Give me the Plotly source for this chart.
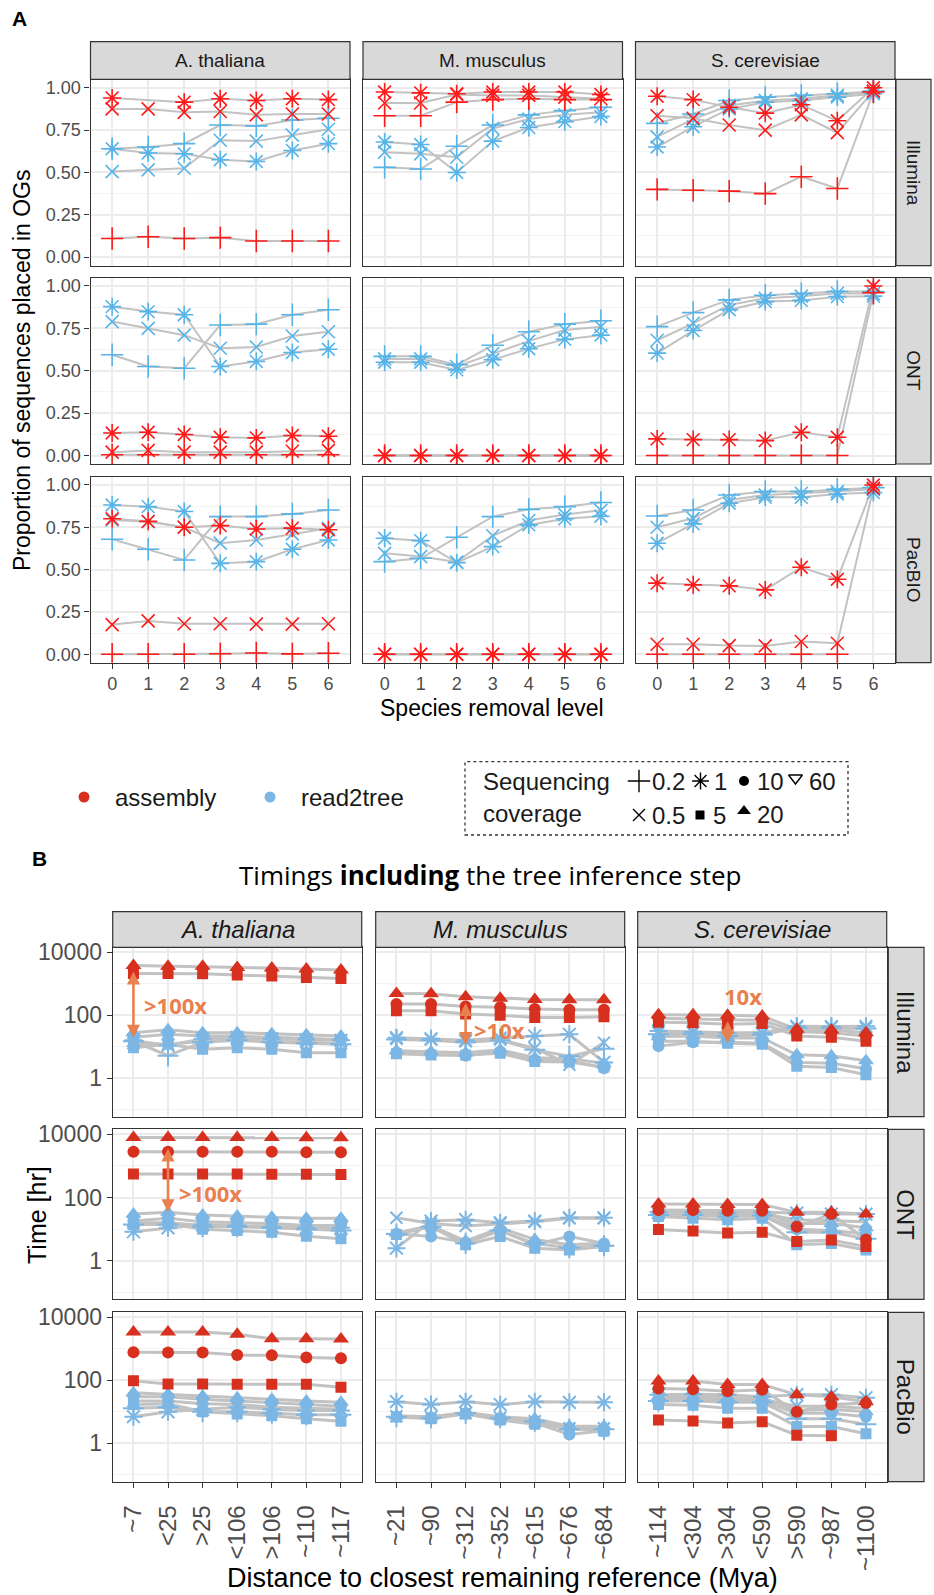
import numpy as np
import plotly.graph_objects as go

W, H = 934, 1595
FONT = "Liberation Sans, Arial, Helvetica, sans-serif"

SPECIES = ["A. thaliana", "M. musculus", "S. cerevisiae"]
PLATFORMS_A = ["Illumina", "ONT", "PacBIO"]
PLATFORMS_B = ["Illumina", "ONT", "PacBio"]
REMOVAL_LEVELS = [0, 1, 2, 3, 4, 5, 6]
DIST_ATH = ["~7", "<25", ">25", "<106", ">106", "~110", "~117"]
DIST_MMU = ["~21", "~90", "~312", "~352", "~615", "~676", "~684"]
DIST_SCE = ["~114", "<304", ">304", "<590", ">590", "~987", "~1100"]

# ---------------- A: proportion of sequences placed in OGs ----------------
# keys are sequencing coverages
prop_ill_ath_asm = {"0.2": [0.11, 0.12, 0.11, 0.115, 0.095, 0.095, 0.095],
                    "0.5": [0.875, 0.875, 0.855, 0.86, 0.84, 0.845, 0.845],
                    "1": [0.94, None, 0.915, 0.935, 0.925, 0.935, 0.93]}
prop_ill_ath_r2t = {"0.2": [0.64, 0.65, 0.67, 0.78, 0.775, 0.81, 0.82],
                    "0.5": [0.505, 0.515, 0.525, 0.69, 0.685, 0.72, 0.755],
                    "1": [0.64, 0.615, 0.61, 0.575, 0.565, 0.63, 0.67]}
prop_ill_mmu_asm = {"0.2": [0.835, 0.835, 0.915, 0.93, 0.935, 0.93, 0.93],
                    "0.5": [0.91, 0.91, 0.96, 0.955, 0.955, 0.945, 0.935],
                    "1": [0.975, 0.97, 0.965, 0.975, 0.975, 0.975, 0.96]}
prop_ill_mmu_r2t = {"0.2": [0.53, 0.52, 0.655, 0.78, 0.84, 0.865, 0.885],
                    "0.5": [0.62, 0.61, 0.59, 0.76, 0.815, 0.84, 0.855],
                    "1": [0.68, 0.665, 0.50, 0.685, 0.765, 0.80, 0.83]}
prop_ill_sce_asm = {"0.2": [0.40, 0.395, 0.39, 0.375, 0.475, 0.405, 0.975],
                    "0.5": [0.835, 0.82, 0.78, 0.75, 0.84, 0.735, 0.98],
                    "1": [0.95, 0.93, 0.885, 0.85, 0.90, 0.805, 1.0]}
prop_ill_sce_r2t = {"0.2": [0.79, 0.845, 0.925, 0.945, 0.955, 0.965, 0.98],
                    "0.5": [0.71, 0.815, 0.895, 0.925, 0.935, 0.955, 0.975],
                    "1": [0.65, 0.77, 0.875, 0.915, 0.925, 0.945, 0.965]}

prop_ont_ath_asm = {"0.2": [0.005, 0.005, 0.005, 0.005, 0.005, 0.005, 0.005],
                    "0.5": [0.02, 0.03, 0.02, 0.02, 0.02, 0.025, 0.03],
                    "1": [0.133, 0.137, 0.124, 0.108, 0.104, 0.118, 0.114]}
prop_ont_ath_r2t = {"0.2": [0.594, 0.525, 0.515, 0.77, 0.775, 0.83, 0.86],
                    "0.5": [0.79, 0.75, 0.71, 0.633, 0.64, 0.705, 0.73],
                    "1": [0.878, 0.849, 0.83, 0.525, 0.555, 0.608, 0.627]}
prop_ont_mmu_asm = {"0.2": [0.0, 0.0, 0.0, 0.0, 0.0, 0.0, 0.0],
                    "0.5": [0.0, 0.0, 0.0, 0.0, 0.0, 0.0, 0.0],
                    "1": [0.0, 0.0, 0.0, 0.0, 0.0, 0.0, 0.0]}
prop_ont_mmu_r2t = {"0.2": [0.585, 0.585, 0.535, 0.65, 0.73, 0.775, 0.795],
                    "0.5": [0.57, 0.57, 0.525, 0.60, 0.675, 0.74, 0.76],
                    "1": [0.55, 0.55, 0.505, 0.565, 0.63, 0.685, 0.71]}
prop_ont_sce_asm = {"0.2": [0.0, 0.0, 0.0, 0.0, 0.0, 0.0, 0.96],
                    "1": [0.098, 0.094, 0.094, 0.088, 0.137, 0.108, 1.0]}
prop_ont_sce_r2t = {"0.2": [0.76, 0.843, 0.918, 0.945, 0.955, 0.967, 0.967],
                    "0.5": [0.68, 0.78, 0.888, 0.927, 0.94, 0.957, 0.955],
                    "1": [0.604, 0.737, 0.86, 0.908, 0.915, 0.937, 0.94]}

prop_pac_ath_asm = {"0.2": [0.0, 0.0, 0.0, 0.003, 0.007, 0.002, 0.006],
                    "0.5": [0.175, 0.197, 0.18, 0.18, 0.178, 0.178, 0.18],
                    "1": [0.80, 0.785, 0.75, 0.76, 0.74, 0.745, 0.735]}
prop_pac_ath_r2t = {"0.2": [0.679, 0.62, 0.557, 0.813, 0.813, 0.829, 0.852],
                    "0.5": [0.793, 0.783, 0.75, 0.656, 0.675, 0.711, 0.744],
                    "1": [0.882, 0.872, 0.843, 0.537, 0.547, 0.62, 0.675]}
prop_pac_mmu_asm = {"0.2": [0.0, 0.0, 0.0, 0.0, 0.0, 0.0, 0.0],
                    "0.5": [0.0, 0.0, 0.0, 0.0, 0.0, 0.0, 0.0],
                    "1": [0.0, 0.0, 0.0, 0.0, 0.0, 0.0, 0.0]}
prop_pac_mmu_r2t = {"0.2": [0.547, 0.567, 0.691, 0.813, 0.856, 0.872, 0.896],
                    "0.5": [0.596, 0.577, 0.545, 0.70, 0.79, 0.825, 0.85],
                    "1": [0.685, 0.671, 0.541, 0.636, 0.764, 0.80, 0.815]}
prop_pac_sce_asm = {"0.2": [0.0, 0.0, 0.0, 0.0, 0.0, 0.0, None],
                    "0.5": [0.059, 0.059, 0.051, 0.049, 0.075, 0.065, 0.98],
                    "1": [0.42, 0.41, 0.404, 0.38, 0.514, 0.443, 1.0]}
prop_pac_sce_r2t = {"0.2": [0.817, 0.852, 0.941, 0.961, 0.961, 0.974, 0.984],
                    "0.5": [0.75, 0.803, 0.911, 0.941, 0.951, 0.961, 0.974],
                    "1": [0.656, 0.77, 0.892, 0.927, 0.927, 0.947, 0.955]}

# ---------------- B: run time in hours (tree inference included) ----------------
time_ill_ath_asm = {"5": [2140, 2140, 2090, 1900, 1780, 1580, 1480],
                    "20": [3800, 3630, 3630, 3310, 3160, 2950, 2750]}
time_ill_ath_r2t = {"0.2": [15, 5.2, 14, 16, 14, 13, 12],
                    "0.5": [13, 12, 15, 17, 15, 14, 13],
                    "1": [16, 11, 18, 20, 18, 17, 16],
                    "5": [9.4, 12, 8.3, 9.4, 8.3, 6.5, 6.5],
                    "10": [20, 25, 22, 22, 20, 18, 17],
                    "20": [28, 35, 28, 28, 26, 24, 22]}
time_ill_mmu_asm = {"5": [140, 140, 110, 100, 85, 85, 90],
                    "10": [230, 230, 190, 180, 160, 150, 150],
                    "20": [490, 480, 390, 350, 320, 310, 310]}
time_ill_mmu_r2t = {"0.2": [17, 16, 14, 16, 8, 5, 8.7],
                    "0.5": [18, 17, 15, 17, 9, 2.7, 13.6],
                    "1": [19.5, 18, 16, 19, 22, 25, 3.2],
                    "5": [6.0, 5.5, 5.5, 6.2, 3.4, 3.3, 2.3],
                    "10": [6.5, 5.9, 5.2, 7.0, 3.8, 3.6, 2.1],
                    "20": [7.5, 7.0, 6.5, 8.0, 4.5, 4.2, 3.0]}
time_ill_sce_asm = {"5": [60, 58, 52, 55, 22, 20, 15],
                    "10": [80, 78, 72, 70, 30, 28, 22],
                    "20": [105, 105, 100, 95, 36, 34, 28]}
time_ill_sce_r2t = {"0.2": [25, 26, 22, 24, 40, 40, 38],
                    "0.5": [28, 28, 25, 26, 42, 42, 40],
                    "1": [32, 30, 28, 28, 45, 44, 45],
                    "5": [15, 15, 13, 12, 2.4, 2.2, 1.3],
                    "10": [10.5, 14, 14, 13, 3.2, 3.0, 2.0],
                    "20": [21, 22, 19, 19, 5.6, 5.2, 3.6]}

time_ont_ath_asm = {"5": [560, 560, 560, 560, 550, 550, 540],
                    "10": [2800, 2800, 2800, 2800, 2800, 2700, 2700],
                    "20": [7900, 7900, 7900, 7900, 7900, 7800, 7800]}
time_ont_ath_r2t = {"0.2": [14, 14, 12, 12, 11, 10, 9],
                    "0.5": [16, 16, 13, 12, 12, 11, 10],
                    "1": [8.3, 11, 14, 13, 12, 11, 11],
                    "5": [14, 15, 10, 9, 8, 6, 5],
                    "10": [18, 22, 17, 16, 15, 13, 13],
                    "20": [30, 34, 28, 26, 24, 22, 22]}
time_ont_mmu_asm = {}
time_ont_mmu_r2t = {"0.2": [7, 12, 3.6, 9, 3.5, 2.6, 3],
                    "0.5": [23, 15, 12.6, 15, 17, 22, 22],
                    "1": [2.5, 18, 20, 16, 18, 23, 23],
                    "5": [6.8, 12, 3.2, 5.9, 2.5, 2.2, 2.8],
                    "10": [7.2, 5.9, 3.8, 9, 3.2, 5.9, 3.5],
                    "20": [7.6, 13, 4.2, 11, 4.7, 3.2, 3.6]}
time_ont_sce_asm = {"5": [9.8, 8.7, 7.6, 8, 4.1, 4.5, 2.8],
                    "10": [40, 40, 38, 38, 12, 30, 4.7],
                    "20": [63, 63, 60, 60, 34, 34, 30]}
time_ont_sce_r2t = {"0.2": [28, 28, 25, 27, 8, 8, 5],
                    "0.5": [32, 32, 30, 30, 20, 18, 17],
                    "1": [35, 35, 33, 35, 32, 30, 30],
                    "5": [25, 22, 20, 22, 3.2, 3.5, 2.2],
                    "10": [30, 30, 25, 28, 10, 9, 7],
                    "20": [40, 40, 36, 38, 15, 15, 11]}

time_pac_ath_asm = {"5": [96, 76, 76, 75, 75, 75, 60],
                    "10": [780, 770, 770, 640, 620, 530, 500],
                    "20": [3450, 3450, 3450, 2900, 2100, 2100, 2050]}
time_pac_ath_r2t = {"0.2": [13, 14, 10, 10, 9, 8, 8],
                    "0.5": [22, 22, 18, 17, 14, 13, 12],
                    "1": [7, 10, 12, 14, 12, 11, 11],
                    "5": [17, 18, 10, 8.5, 7.5, 6, 5],
                    "10": [30, 30, 25, 22, 20, 17, 15],
                    "20": [40, 36, 32, 28, 25, 22, 20]}
time_pac_mmu_asm = {}
time_pac_mmu_r2t = {"0.2": [7, 6.5, 9, 6.5, 5, 2.8, 2.8],
                    "0.5": [7.2, 6.8, 9.2, 6.5, 5, 3, 3],
                    "1": [21, 17, 21, 17, 21, 20, 20],
                    "5": [6.8, 6, 8.5, 5.5, 4, 3, 2.4],
                    "10": [7, 6.3, 9, 6, 4.5, 1.9, 2.5],
                    "20": [7.5, 7, 9.5, 7, 6, 3.5, 3.5]}
time_pac_sce_asm = {"5": [5.5, 5.1, 4.4, 4.8, 1.8, 1.75, None],
                    "10": [55, 52, 45, 50, 10, 17, 19],
                    "20": [95, 95, 74, 74, 35, 30, 21]}
time_pac_sce_r2t = {"0.2": [22, 22, 20, 20, 6, 6, 4],
                    "0.5": [28, 28, 25, 25, 15, 15, 13],
                    "1": [35, 36, 35, 30, 35, 35, 28],
                    "5": [17, 16, 13, 13, 3.4, 3.4, 2],
                    "10": [25, 25, 22, 22, 9, 9, 7],
                    "20": [30, 30, 28, 28, 11, 12, 10]}

# fold-change call-outs:
# (platform, species, removal level, low hr, high hr, label, label height hr)
FOLD_ARROWS = [
    ("Illumina", "A. thaliana", 0, 19.5, 2760, ">100x", 215),
    ("Illumina", "M. musculus", 2, 11.5, 275, ">10x", 35),
    ("Illumina", "S. cerevisiae", 2, 13, 72, "10x", 400),
    ("ONT", "A. thaliana", 1, 34, 4000, ">100x", 138),
]

PROP = {
    ("Illumina", "A. thaliana"): (prop_ill_ath_asm, prop_ill_ath_r2t),
    ("Illumina", "M. musculus"): (prop_ill_mmu_asm, prop_ill_mmu_r2t),
    ("Illumina", "S. cerevisiae"): (prop_ill_sce_asm, prop_ill_sce_r2t),
    ("ONT", "A. thaliana"): (prop_ont_ath_asm, prop_ont_ath_r2t),
    ("ONT", "M. musculus"): (prop_ont_mmu_asm, prop_ont_mmu_r2t),
    ("ONT", "S. cerevisiae"): (prop_ont_sce_asm, prop_ont_sce_r2t),
    ("PacBIO", "A. thaliana"): (prop_pac_ath_asm, prop_pac_ath_r2t),
    ("PacBIO", "M. musculus"): (prop_pac_mmu_asm, prop_pac_mmu_r2t),
    ("PacBIO", "S. cerevisiae"): (prop_pac_sce_asm, prop_pac_sce_r2t),
}
TIME = {
    ("Illumina", "A. thaliana"): (time_ill_ath_asm, time_ill_ath_r2t),
    ("Illumina", "M. musculus"): (time_ill_mmu_asm, time_ill_mmu_r2t),
    ("Illumina", "S. cerevisiae"): (time_ill_sce_asm, time_ill_sce_r2t),
    ("ONT", "A. thaliana"): (time_ont_ath_asm, time_ont_ath_r2t),
    ("ONT", "M. musculus"): (time_ont_mmu_asm, time_ont_mmu_r2t),
    ("ONT", "S. cerevisiae"): (time_ont_sce_asm, time_ont_sce_r2t),
    ("PacBio", "A. thaliana"): (time_pac_ath_asm, time_pac_ath_r2t),
    ("PacBio", "M. musculus"): (time_pac_mmu_asm, time_pac_mmu_r2t),
    ("PacBio", "S. cerevisiae"): (time_pac_sce_asm, time_pac_sce_r2t),
}
DIST = {"A. thaliana": DIST_ATH, "M. musculus": DIST_MMU, "S. cerevisiae": DIST_SCE}

# ---------------- styling ----------------
RED_A, BLUE_A = "#FF1A1A", "#56B4E9"
RED_B, BLUE_B = "#D7301F", "#7BB6E4"
ORANGE = "#E8804F"
LINE_GREY = "#C2C2C2"
BORDER = "#333333"
STRIP_FILL = "#D9D9D9"
TICK_GREY = "#4D4D4D"
GRID = "#EBEBEB"
GRID_MINOR = "#F3F3F3"

SYMBOL = {"0.2": "cross-thin", "0.5": "x-thin", "1": "asterisk", "5": "square",
          "10": "circle", "20": "triangle-up", "60": "triangle-down-open"}
SIZE_A = {"0.2": 16, "0.5": 13, "1": 15}
SIZE_B = {"0.2": 15, "0.5": 12, "1": 15, "5": 11, "10": 12, "20": 14}
OPEN = {"0.2", "0.5", "1", "60"}

# panel geometry in pixels (left, right) / (top, bottom)
A_COLS = [(90.5, 350.0), (363.0, 622.5), (635.5, 895.0)]
A_ROWS = [(79.3, 265.6), (277.5, 464.0), (476.5, 662.7)]
A_STRIP_TOP, A_RSTRIP = 41.7, (896.0, 931.0)
B_COLS = [(112.7, 361.7), (375.7, 624.7), (637.7, 886.7)]
B_ROWS = [(947.3, 1116.7), (1129.3, 1299.3), (1312.3, 1481.7)]
B_STRIP_TOP, B_RSTRIP = 911.7, (888.3, 924.0)


def xdom(c):
    return [c[0] / W, c[1] / W]


def ydom(r):
    return [1 - r[1] / H, 1 - r[0] / H]


def ax_names(n):
    return ("xaxis" if n == 1 else f"xaxis{n}", "yaxis" if n == 1 else f"yaxis{n}",
            "x" if n == 1 else f"x{n}", "y" if n == 1 else f"y{n}")


fig = go.Figure()
layout = {}
line_traces, point_traces = [], []
shapes, annotations = [], []


def marker_for(cov, color, size, lw):
    if cov in OPEN:
        return dict(symbol=SYMBOL[cov], size=size, color=color,
                    line=dict(color=color, width=lw))
    return dict(symbol=SYMBOL[cov], size=size, color=color, line=dict(width=0))


def add_series(xr, yr, series, color, sizes, lw, line_w):
    pts = []
    for cov, vals in series.items():
        line_traces.append(go.Scatter(
            x=REMOVAL_LEVELS, y=vals, xaxis=xr, yaxis=yr, mode="lines",
            connectgaps=True, line=dict(color=LINE_GREY, width=line_w),
            hoverinfo="skip", showlegend=False))
        pts.append(go.Scatter(
            x=REMOVAL_LEVELS, y=vals, xaxis=xr, yaxis=yr, mode="markers",
            marker=marker_for(cov, color, sizes[cov], lw),
            name=cov, showlegend=False))
    return pts


def strip_box(x0, x1, y0, y1):
    shapes.append(dict(type="rect", xref="paper", yref="paper",
                       x0=x0 / W, x1=x1 / W, y0=1 - y1 / H, y1=1 - y0 / H,
                       fillcolor=STRIP_FILL, line=dict(color=BORDER, width=1.2)))


def text(s, x, y, size, color="#1A1A1A", angle=0, xanchor="center", family=FONT, **kw):
    annotations.append(dict(text=s, x=x / W, y=1 - y / H, xref="paper", yref="paper",
                            showarrow=False, textangle=angle, xanchor=xanchor,
                            yanchor="middle", font=dict(size=size, color=color, family=family),
                            **kw))


common_axis = dict(zeroline=False, showline=True, linecolor=BORDER, linewidth=1.2,
                   mirror=True, showgrid=True, gridcolor=GRID, gridwidth=1.6,
                   tickcolor=BORDER, tickwidth=1.2, ticklen=5, fixedrange=True,
                   automargin=False)

# ---------------- panel A ----------------
for r, plat in enumerate(PLATFORMS_A):
    for c, sp in enumerate(SPECIES):
        n = r * 3 + c + 1
        xk, yk, xr, yr = ax_names(n)
        layout[xk] = dict(common_axis, domain=xdom(A_COLS[c]), anchor=yr, range=[-0.6, 6.6],
                          tickmode="array", tickvals=REMOVAL_LEVELS,
                          ticktext=[str(v) for v in REMOVAL_LEVELS],
                          showticklabels=(r == 2), ticks="outside" if r == 2 else "",
                          tickfont=dict(size=18, color=TICK_GREY, family=FONT))
        layout[yk] = dict(common_axis, domain=ydom(A_ROWS[r]), anchor=xr, range=[-0.05, 1.05],
                          tickmode="array", tickvals=[0, 0.25, 0.5, 0.75, 1.0],
                          ticktext=["0.00", "0.25", "0.50", "0.75", "1.00"],
                          showticklabels=(c == 0), ticks="outside" if c == 0 else "",
                          tickfont=dict(size=18, color=TICK_GREY, family=FONT),
                          minor=dict(tickmode="array", tickvals=[0.125, 0.375, 0.625, 0.875],
                                     showgrid=True, gridcolor=GRID_MINOR, gridwidth=0.9, ticks=""))
        asm, r2t = PROP[(plat, sp)]
        point_traces.extend(add_series(xr, yr, r2t, BLUE_A, SIZE_A, 1.6, 2.0))
        point_traces.extend(add_series(xr, yr, asm, RED_A, SIZE_A, 1.6, 2.0))

for c, sp in enumerate(SPECIES):
    strip_box(A_COLS[c][0], A_COLS[c][1], A_STRIP_TOP, A_ROWS[0][0])
    text(sp, (A_COLS[c][0] + A_COLS[c][1]) / 2, (A_STRIP_TOP + A_ROWS[0][0]) / 2, 19)
for r, plat in enumerate(PLATFORMS_A):
    strip_box(A_RSTRIP[0], A_RSTRIP[1], A_ROWS[r][0], A_ROWS[r][1])
    text(plat, sum(A_RSTRIP) / 2, (A_ROWS[r][0] + A_ROWS[r][1]) / 2, 19, angle=90)

text("<b>A</b>", 19.5, 19, 21, color="#000000")
text("Proportion of sequences placed in OGs", 22, 371, 23, color="#000000", angle=-90)
text("Species removal level", 492, 708, 23, color="#000000")

# ---------------- panel B ----------------
for r, plat in enumerate(PLATFORMS_B):
    for c, sp in enumerate(SPECIES):
        n = 9 + r * 3 + c + 1
        xk, yk, xr, yr = ax_names(n)
        layout[xk] = dict(common_axis, domain=xdom(B_COLS[c]), anchor=yr, range=[-0.6, 6.6],
                          tickmode="array", tickvals=REMOVAL_LEVELS, ticktext=DIST[sp],
                          tickangle=-90, showticklabels=(r == 2),
                          ticks="outside" if r == 2 else "", ticklabelstandoff=8,
                          tickfont=dict(size=24, color=TICK_GREY, family=FONT))
        layout[yk] = dict(common_axis, domain=ydom(B_ROWS[r]), anchor=xr, type="log",
                          range=[-1.22, 4.16], tickmode="array", tickvals=[1, 100, 10000],
                          ticktext=["1", "100", "10000"], showticklabels=(c == 0),
                          ticks="outside" if c == 0 else "",
                          tickfont=dict(size=23, color=TICK_GREY, family=FONT),
                          minor=dict(tickmode="array", tickvals=[0.1, 10, 1000],
                                     showgrid=True, gridcolor=GRID_MINOR, gridwidth=0.9, ticks=""))
        asm, r2t = TIME[(plat, sp)]
        point_traces.extend(add_series(xr, yr, r2t, BLUE_B, SIZE_B, 2.0, 3.0))
        point_traces.extend(add_series(xr, yr, asm, RED_B, SIZE_B, 2.0, 3.0))

for c, sp in enumerate(SPECIES):
    strip_box(B_COLS[c][0], B_COLS[c][1], B_STRIP_TOP, B_ROWS[0][0])
    text(f"<i>{sp}</i>", (B_COLS[c][0] + B_COLS[c][1]) / 2, (B_STRIP_TOP + B_ROWS[0][0]) / 2, 24)
for r, plat in enumerate(PLATFORMS_B):
    strip_box(B_RSTRIP[0], B_RSTRIP[1], B_ROWS[r][0], B_ROWS[r][1])
    text(plat, sum(B_RSTRIP) / 2, (B_ROWS[r][0] + B_ROWS[r][1]) / 2, 24, angle=90)

text("<b>B</b>", 39, 858, 21, color="#000000")
text("Timings <b>including</b> the tree inference step", 490, 875, 26, color="#000000",
     family="Open Sans, Liberation Sans, sans-serif")
text("Time [hr]", 37, 1215, 25, color="#000000", angle=-90)
text("Distance to closest remaining reference (Mya)", 503, 1578, 27, color="#000000")

# fold-change arrows with labels
LABEL_OFFSET = {">100x": ("left", 9), ">10x": ("left", 6), "10x": ("center", 15)}
for plat, sp, lvl, lo, hi, lab, lab_hr in FOLD_ARROWS:
    n = 9 + PLATFORMS_B.index(plat) * 3 + SPECIES.index(sp) + 1
    _, _, xr, yr = ax_names(n)
    annotations.append(dict(xref=xr, yref=yr, axref=xr, ayref=yr, x=lvl, y=np.log10(lo),
                            ax=lvl, ay=np.log10(hi), text="", showarrow=True,
                            arrowside="end+start", arrowhead=2, startarrowhead=2,
                            arrowsize=1.0, startarrowsize=1.0, arrowwidth=2.6,
                            arrowcolor=ORANGE, standoff=0, startstandoff=0))
    anchor, dx = LABEL_OFFSET[lab]
    annotations.append(dict(xref=xr, yref=yr, x=lvl, y=np.log10(lab_hr), text=f"<b>{lab}</b>",
                            showarrow=False, xanchor=anchor, xshift=dx, yanchor="middle",
                            font=dict(size=22, color=ORANGE,
                                      family="Open Sans, Liberation Sans, sans-serif")))

# ---------------- legend (pixel-space overlay axis) ----------------
LEG = 19
xk, yk, xr, yr = ax_names(LEG)
layout[xk] = dict(domain=[0, 1], range=[0, W], visible=False, fixedrange=True, anchor=yr)
layout[yk] = dict(domain=[0, 1], range=[H, 0], visible=False, fixedrange=True, anchor=xr)

point_traces.append(go.Scatter(x=[84, 270], y=[797, 797], xaxis=xr, yaxis=yr, mode="markers",
                               marker=dict(symbol="circle", size=11, color=[RED_B, BLUE_B]),
                               showlegend=False, hoverinfo="skip"))
text("assembly", 113, 797, 24, xanchor="left")
text("read2tree", 299, 797, 24, xanchor="left")

shapes.append(dict(type="rect", xref="paper", yref="paper", x0=465 / W, x1=848 / W,
                   y0=1 - 835 / H, y1=1 - 761.7 / H,
                   line=dict(color=BORDER, width=1.3, dash="dot"), fillcolor="rgba(0,0,0,0)"))
text("Sequencing", 481, 781, 24, xanchor="left")
text("coverage", 481, 813, 24, xanchor="left")

LEGEND_KEYS = [("0.2", 639, 781, 16), ("1", 700.5, 781, 14), ("10", 744, 781, 10),
               ("60", 795.5, 778, 12), ("0.5", 639, 815, 12), ("5", 700, 815, 9),
               ("20", 744, 811, 12)]
for cov, kx, ky, ks in LEGEND_KEYS:
    point_traces.append(go.Scatter(x=[kx], y=[ky], xaxis=xr, yaxis=yr, mode="markers",
                                   marker=marker_for(cov, "#000000", ks, 1.4),
                                   showlegend=False, hoverinfo="skip"))
    text(cov, kx + 11, ky + (3 if cov in ("60", "20") else 0), 24, xanchor="left")

for t in line_traces + point_traces:
    fig.add_trace(t)

fig.update_layout(
    template="none",
    width=W, height=H,
    margin=dict(l=0, r=0, t=0, b=0),
    paper_bgcolor="white", plot_bgcolor="rgba(0,0,0,0)",
    font=dict(family=FONT, color="#1A1A1A"),
    showlegend=False,
    shapes=shapes, annotations=annotations,
    **layout,
)

fig.write_html("out.html")
